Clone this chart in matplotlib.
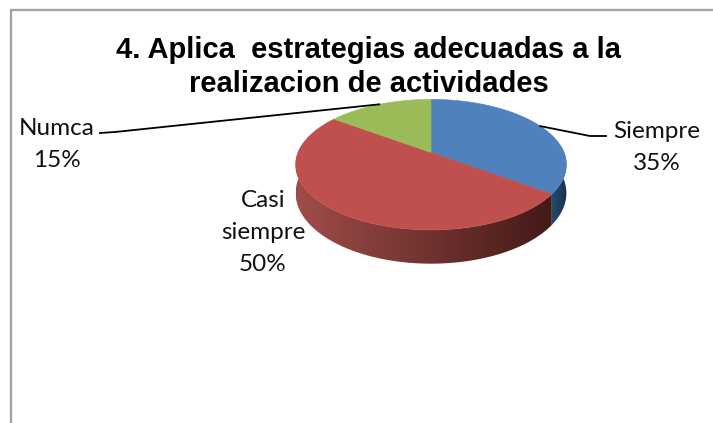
import numpy as np
import matplotlib
matplotlib.use("Agg")
import matplotlib.pyplot as plt
from matplotlib.patches import Polygon
from matplotlib.colors import LinearSegmentedColormap

categories = ["Siempre", "Casi\nsiempre", "Numca"]
values = [35, 50, 15]
percent_labels = ["35%", "50%", "15%"]
top_colors = ["#4f81bd", "#c0504d", "#9bbb59"]
wall_left = ["#254a73", "#a04c4a", "#6f8a3f"]
wall_right = ["#17304d", "#431a17", "#5f7535"]
title_lines = ["4. Aplica  estrategias adecuadas a la", "realizacion de actividades"]

W, H = 713, 423
fig = plt.figure(figsize=(W / 100, H / 100), dpi=100)
ax = fig.add_axes([0, 0, 1, 1])
ax.set_xlim(0, W)
ax.set_ylim(H, 0)
ax.axis("off")

# perspective projection of the unit disc
CX, CY, A, B, K, DEPTH = 431, 152.5, 133, 63, 0.186, 27.5


def project(theta, z=0.0):
    x, y = np.cos(theta), np.sin(theta)
    w = 1 + K * y
    return CX + A * x / w, CY + (-B * y + z) / w


# frame: top and left edges only
ax.plot([W, 10.5, 10.5], [10.5, 10.5, H], color="#a3a3a3", lw=1.7,
        solid_joinstyle="miter", zorder=1)

fractions = np.array(values) / sum(values)
edges = np.pi / 2 - 2 * np.pi * np.concatenate([[0], np.cumsum(fractions)])

# side wall: horizontal gradient clipped to the visible front part of each slice
for i in range(len(values)):
    ts = np.linspace(edges[i], edges[i + 1], 400)
    ts = ts[np.sin(ts) < 0.12]
    if len(ts) < 2:
        continue
    xt, yt = project(ts)
    xb, yb = project(ts, z=DEPTH)
    verts = np.column_stack([np.r_[xt, xb[::-1]], np.r_[yt, yb[::-1]]])
    x0, x1 = verts[:, 0].min(), verts[:, 0].max()
    y0, y1 = verts[:, 1].min(), verts[:, 1].max()
    cmap = LinearSegmentedColormap.from_list("wall", [wall_left[i], wall_right[i]])
    im = ax.imshow(np.linspace(0, 1, 256)[None, :], cmap=cmap, aspect="auto",
                   extent=(x0, x1, y1, y0), zorder=2, interpolation="bilinear")
    clip = Polygon(verts, closed=True, transform=ax.transData)
    im.set_clip_path(clip)
ax.set_xlim(0, W)
ax.set_ylim(H, 0)

# top faces
for i in range(len(values)):
    ts = np.linspace(edges[i], edges[i + 1], 200)
    xs, ys = project(ts)
    ax.fill(np.r_[CX, xs], np.r_[CY, ys], facecolor=top_colors[i],
            edgecolor=top_colors[i], lw=0.4, zorder=3)

title_baselines = [58, 91.5]
for line, yb in zip(title_lines, title_baselines):
    ax.text(369, yb, line, ha="center", va="baseline", fontsize=21,
            family="Liberation Sans", fontweight="bold", color="black", zorder=5)

# data labels, one text per line
label_x = [657, 263, 57]
label_first_baseline = [138, 207, 135]
leader_path = [[(590, 136), (606, 136)], None, [(115, 132), (100, 133)]]
for i, (name, pct) in enumerate(zip(categories, percent_labels)):
    for j, line in enumerate(name.split("\n") + [pct]):
        ax.text(label_x[i], label_first_baseline[i] + 32 * j, line, ha="center",
                va="baseline", fontsize=17.5, family="Lato", color="#111111", zorder=5)
    if leader_path[i] is not None:
        mid = (edges[i] + edges[i + 1]) / 2
        pts = [project(mid)] + leader_path[i]
        ax.plot(*zip(*pts), color="black", lw=1.3, zorder=4)

fig.savefig("out.png", dpi=100)
